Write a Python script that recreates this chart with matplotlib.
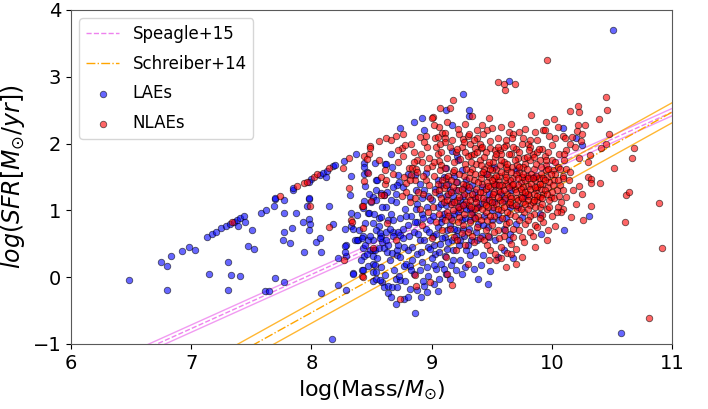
import matplotlib
matplotlib.use("Agg")
import matplotlib.pyplot as plt
import numpy as np

# ---------------- data ----------------
# LAEs: (log Mass, log SFR)
lae_points = [
    (6.48,-0.04),(6.75,0.22),(6.80,0.17),(6.83,0.31),(6.80,-0.19),(6.92,0.39),(6.98,0.45),(7.03,0.41),
    (7.15,0.04),(7.13,0.60),(7.17,0.65),(7.21,0.68),(7.25,0.73),(7.29,0.76),(7.32,0.80),(7.36,0.83),
    (7.38,0.86),(7.41,0.88),(7.44,0.92),(7.39,0.77),(7.45,0.82),(7.51,0.71),(7.47,0.46),(7.52,0.42),
    (7.31,0.23),(7.33,0.03),(7.41,0.02),(7.31,-0.19),(7.61,-0.20),(7.65,-0.20),(7.58,0.96),(7.62,1.00),
    (7.70,1.17),(7.77,1.15),(7.69,1.06),(7.77,0.96),(7.77,0.67),(7.76,0.56),(7.82,0.51),(7.85,1.30),
    (7.87,0.96),(7.84,0.73),(7.70,-0.01),(7.77,-0.07),(7.93,0.83),(7.94,0.37),(7.96,1.06),(7.98,1.17),
    (7.98,0.87),(7.99,0.80),(7.98,0.70),(8.04,0.53),(8.07,0.59),(8.08,0.38),(8.08,-0.23),(8.17,-0.92),
    (8.15,1.06),(8.18,0.80),(8.22,0.29),(8.22,-0.12),(8.29,-0.19),
    (7.70,1.19),(7.85,1.33),(7.98,1.18),(8.00,1.47),(7.98,1.43),(8.07,1.53),(8.10,1.56),(8.13,1.59),
    (8.18,1.66),(8.20,1.68),(8.27,1.74),(8.37,1.84),(8.33,1.52),(8.32,1.23),(8.44,1.71),(8.44,1.65),
    (8.44,1.54),(8.45,1.36),(8.53,1.71),(8.61,1.70),(8.54,1.46),(8.54,1.30),(8.51,1.20),(8.58,1.26),
    (8.46,1.57),(8.66,1.85),(8.74,2.23),(8.85,2.33),(8.62,1.70),(8.67,1.65),(8.55,1.46),(8.72,1.53),
    (8.73,1.43),(8.71,1.38),(8.86,1.53),(8.12,1.50),(8.92,2.39),(8.94,2.21),(9.12,2.51),(9.26,2.74),
    (9.31,2.50),(9.31,2.42),(9.17,2.28),(9.64,2.94),(8.95,1.56),(9.12,1.64),(9.17,1.89),(9.21,1.82),
    (9.22,1.75),(10.09,2.24),(10.20,2.08),(10.25,1.98),(10.51,3.70),
    (8.29,0.31),(8.28,0.38),(8.29,0.48),(8.28,0.72),(8.33,0.96),(8.36,0.56),(8.35,0.06),(8.39,0.56),
    (8.38,0.93),(8.43,0.61),(8.44,0.31),(8.42,0.11),(8.47,0.96),(8.51,0.56),(8.51,0.41),(8.51,0.32),
    (8.51,0.20),(8.51,0.08),(8.51,-0.06),(8.54,1.16),(8.56,0.76),(8.58,0.61),(8.59,0.53),(8.59,-0.07),
    (8.61,0.03),(8.64,-0.24),(8.60,-0.14),(8.62,0.68),(8.64,0.86),(8.60,1.23),
    (8.35,0.05),(8.43,0.11),(8.47,0.17),(8.53,0.18),(8.54,0.08),(8.54,-0.03),(8.57,-0.04),(8.64,-0.13),
    (8.67,-0.15),(8.71,-0.14),(8.70,-0.03),(8.74,-0.04),(8.77,-0.32),(8.86,-0.53),(8.77,0.16),(8.79,0.20),
    (8.82,0.17),(8.83,0.11),(8.28,0.46),(8.33,0.76),(8.35,0.72),(8.40,0.70),(8.38,0.56),(8.42,0.58),
    (8.43,0.43),(8.45,0.48),(8.47,0.56),(8.49,0.41),(8.53,0.41),(8.56,0.43),(8.60,0.43),(8.63,0.38),
    (8.64,0.48),(8.67,0.36),(8.71,0.33),(8.71,0.41),(8.74,0.30),(8.45,0.81),(8.48,0.96),(8.51,0.81),
    (8.50,1.13),(8.43,1.03),(8.44,1.14),(8.56,0.88),(8.58,0.90),(8.54,0.71),(8.57,0.66),(8.57,0.58),
    (8.68,0.68),(8.72,0.68),(8.74,0.63),
    (10.58,-0.83),(10.31,0.92),(10.10,0.70),(9.91,0.65),(9.68,0.28),(9.64,0.55),(9.49,0.09),(9.39,-0.02),
    (9.32,0.33),(9.36,0.38),(9.43,0.33),(9.06,-0.03),(8.94,-0.13),(8.88,-0.19),
    (8.62,1.05),(8.66,0.95),(8.70,1.12),(8.74,0.88),(8.78,1.02),(8.80,0.78),(8.83,0.92),(8.85,0.68),
    (8.88,0.82),(8.90,0.55),(8.92,0.95),(8.95,0.72),(8.97,0.45),(8.99,0.85),(9.01,0.62),(9.03,0.35),
    (9.05,0.75),(9.07,0.50),(9.09,0.88),(9.11,0.60),(9.13,0.42),(9.15,0.78),(9.17,0.55),(9.19,0.95),
    (9.21,0.70),(9.23,0.48),(9.25,0.85),(9.27,0.62),(9.29,1.02),(9.31,0.72),(9.33,0.55),(9.35,0.90),
    (9.37,0.68),(9.39,0.80),(9.42,0.62),(9.44,0.92),(9.47,0.75),(9.50,1.00),(9.53,0.55),(9.56,0.85),
    (9.60,0.72),(9.65,0.65),(8.68,0.62),(8.72,0.48),(8.76,0.58),(8.80,0.40),(8.84,0.25),(8.88,0.35),
    (8.92,0.22),(8.96,0.15),(9.00,0.28),(9.04,0.12),(9.08,0.20),(9.12,0.05),(9.16,0.18),(9.20,0.10),
    (9.24,0.25),(9.28,0.15),(8.65,0.25),(8.69,0.10),(8.73,0.02),(8.78,-0.05),(8.82,-0.18),(8.91,-0.30),
    (8.96,-0.22),(9.02,-0.10),(8.70,1.25),(8.76,1.35),(8.82,1.20),(8.88,1.10),(8.94,1.30),(9.00,1.15),
    (9.06,1.25),(9.12,1.08),(9.18,1.22),(9.24,1.15),(9.30,1.30),(9.36,1.18),(9.42,1.35),(9.48,1.25),
    (9.54,1.40),(9.60,1.15),(9.66,1.30),(9.72,1.05),(9.78,1.22),(9.85,1.50),(9.90,0.95),(9.75,0.90),
    (9.45,1.55),(9.25,1.60),(9.05,1.45),(8.90,1.40),(8.80,1.55),(8.68,1.35),(9.52,1.65),(9.70,1.60),
    (8.41,0.25),(8.46,0.35),(8.49,0.62),(8.52,0.95),(8.55,0.28),(8.58,0.15),(8.62,0.55),(8.65,0.72),
    (8.66,1.15),(8.68,0.85),(8.63,1.28),(8.59,1.05),(8.48,1.25),
    (8.76,0.72),(8.79,0.92),(8.81,0.62),(8.84,0.45),(8.86,0.82),(8.87,1.02),(8.89,0.65),(8.91,0.38),
    (8.93,0.88),(8.94,0.55),(8.96,1.05),(8.98,0.68),(8.99,0.42),(8.77,0.45),(8.85,0.05),(8.90,0.10),
    (8.93,-0.05),(8.97,0.02),(8.80,-0.30),(8.70,-0.40),(8.66,-0.30),(8.87,1.30),(8.92,1.18),(8.97,1.22),
    (9.01,0.92),(9.02,0.48),(9.04,0.65),(9.05,1.05),(9.06,0.38),(9.08,0.82),(9.09,0.58),(9.10,0.95),
    (9.11,0.32),(9.13,0.70),(9.14,0.52),(9.16,0.88),(9.18,0.40),(9.19,0.72),(9.20,0.62),(9.22,0.98),
    (9.24,0.55),(9.26,0.72),(9.28,0.88),(9.29,0.40),(9.03,1.32),(9.08,1.38),(9.15,1.30),(9.21,1.42),
    (9.27,1.10),(9.02,0.18),(9.10,0.12),(9.15,-0.02),(9.18,0.25),(9.25,0.05),(9.05,-0.20),
    (9.32,0.85),(9.34,0.98),(9.38,0.55),(9.40,1.10),(9.43,0.78),(9.45,1.15),(9.48,0.60),(9.50,0.85),
    (9.52,1.12),(9.55,0.95),(9.58,1.25),(9.62,0.88),(9.55,0.30),(9.60,0.40),(9.41,0.18),(9.35,0.12),
    (9.47,-0.10),(9.30,0.48),(9.65,1.05),(9.70,0.80),
    (9.08,1.10),(9.12,1.22),(9.14,1.40),(9.17,1.12),(9.20,1.30),(9.23,1.05),(9.26,1.22),(9.29,1.45),
    (9.32,1.02),(9.34,1.38),(9.10,1.50),(9.19,1.52),(9.27,1.35),(9.36,1.28),(9.39,1.05),
]

# NLAEs: (log Mass, log SFR)
nlae_points = [
    (7.74,1.22),(7.99,1.07),(8.15,0.75),(8.27,0.26),(7.34,0.82),(7.88,1.36),(7.94,1.41),(7.96,1.43),
    (8.02,1.50),(8.05,1.55),(8.15,1.63),(8.26,1.64),(8.31,1.79),(8.44,1.82),(8.48,1.85),(8.49,1.96),
    (8.56,2.04),(8.62,2.09),(8.47,1.56),(8.44,1.44),(8.56,1.75),(8.61,1.61),(8.58,1.50),(8.61,1.40),
    (8.60,1.23),(8.76,2.15),(8.90,2.10),(8.75,1.94),(8.72,1.91),(8.49,1.93),(8.46,1.77),(8.62,1.45),
    (8.77,1.50),(8.79,1.41),(8.81,1.63),(8.84,1.63),(8.83,1.53),(8.31,1.33),(8.42,1.06),(8.43,0.73),
    (8.42,0.02),(8.51,0.43),(8.50,1.14),(8.58,1.23),(8.33,0.86),(8.34,0.83),(8.43,1.07),(8.63,0.81),
    (8.70,0.55),(8.74,-0.33),(8.86,0.03),(8.87,-0.13),(8.43,0.01),
    (9.55,2.92),(9.60,2.89),(9.69,2.89),(9.61,2.80),(9.18,2.65),(9.15,2.54),(9.07,2.54),(9.83,2.43),
    (9.01,2.40),(9.00,2.38),(9.06,2.25),(9.09,2.16),(9.11,2.16),(8.95,2.11),(9.11,2.09),(9.11,2.03),
    (9.26,2.07),(9.30,2.11),(9.31,2.14),(9.38,2.20),(9.38,2.09),(9.43,2.15),(9.46,2.20),(9.50,2.23),
    (9.49,2.04),(9.55,2.09),(9.64,2.18),(9.68,2.15),(9.73,2.18),(9.67,2.08),(9.62,1.98),(9.76,2.08),
    (9.80,2.00),(9.82,2.06),(9.88,2.06),(9.93,2.20),(9.32,1.99),(9.36,1.93),(9.33,1.83),(9.41,1.94),
    (9.49,1.94),(9.53,1.90),(9.57,1.91),(8.85,1.88),(8.88,1.75),(8.92,1.73),(8.98,1.78),(9.00,1.66),
    (8.96,1.63),(9.06,1.74),(9.08,1.68),
    (9.96,3.25),(10.45,2.70),(10.46,2.50),(10.22,2.56),(10.23,2.48),(10.15,2.49),(10.39,2.37),(10.02,2.37),
    (10.22,2.28),(10.28,2.28),(9.94,2.21),(10.21,2.19),(10.25,2.14),(10.48,2.14),(10.03,2.08),(10.09,2.12),
    (10.11,2.09),(10.17,2.10),(10.24,2.04),(10.15,1.99),(10.19,1.95),(10.45,2.00),(10.41,1.93),(10.68,1.93),
    (10.67,1.79),(10.52,1.64),(10.32,1.83),(10.30,1.73),(10.23,1.79),(10.10,1.75),(10.12,1.62),(10.15,1.58),
    (10.09,1.51),(10.30,1.50),(10.33,1.47),(10.33,1.41),(10.40,1.41),(10.14,1.45),(10.23,1.36),(10.61,0.82),
    (10.62,1.23),(10.64,1.27),(10.89,1.11),(10.92,0.43),(10.81,-0.61),(10.33,1.07),(10.26,0.86),(10.16,0.90),
    (10.09,1.02),(10.03,0.76),(9.97,0.71),(9.96,0.56),(9.92,0.93),(9.86,0.78),(9.63,0.36),(9.54,0.26),
    (9.49,0.41),(9.17,-0.11),(9.13,0.04),(8.99,-0.07),
    (9.02,1.52),(9.05,1.40),(9.03,1.28),(9.08,1.18),(9.01,1.05),(9.06,0.95),(9.04,0.82),(9.09,0.70),
    (9.00,0.58),(9.07,1.60),(9.10,1.33),(9.12,1.48),(9.14,1.25),(9.16,1.10),(9.13,0.98),(9.17,0.85),
    (9.15,0.72),(9.19,0.60),(9.18,1.58),(9.20,1.42),(9.22,1.30),(9.21,1.15),(9.24,1.02),(9.23,0.90),
    (9.26,0.78),(9.25,0.66),(9.28,1.70),(9.27,1.52),(9.29,1.38),(9.30,1.22),(9.31,1.08),(9.33,0.95),
    (9.32,0.82),(9.34,1.62),(9.35,1.45),(9.37,1.32),(9.36,1.18),(9.38,1.05),(9.39,0.92),(9.40,1.75),
    (9.41,1.55),(9.42,1.40),(9.43,1.28),(9.44,1.12),(9.45,0.98),(9.46,0.85),(9.47,1.68),(9.48,1.50),
    (9.49,1.35),(9.50,1.20),(9.51,1.05),(9.52,0.92),(9.53,1.80),(9.54,1.62),(9.55,1.45),(9.56,1.30),
    (9.57,1.15),(9.58,1.00),(9.59,0.88),(9.60,1.72),(9.61,1.55),(9.62,1.40),(9.63,1.25),(9.64,1.10),
    (9.65,0.95),(9.66,1.85),(9.67,1.65),(9.68,1.48),(9.69,1.32),(9.70,1.18),(9.71,1.02),(9.72,1.78),
    (9.73,1.58),(9.74,1.42),(9.75,1.28),(9.76,1.12),(9.77,0.98),(9.78,1.70),(9.79,1.52),(9.80,1.36),
    (9.81,1.22),(9.82,1.08),(9.84,1.85),(9.85,1.62),(9.86,1.45),(9.87,1.30),(9.88,1.15),(9.90,1.75),
    (9.91,1.55),(9.92,1.40),(9.93,1.25),(9.95,1.68),(9.96,1.50),(9.97,1.35),(9.99,1.20),(10.01,1.60),
    (10.02,1.45),(10.04,1.30),(10.06,1.85),(10.07,1.38),(10.12,1.90),
    (9.20,1.88),(9.25,1.95),(9.35,1.85),(9.45,1.88),(9.58,1.85),(9.70,1.92),(9.82,1.95),(9.92,1.92),
    (10.00,1.98),(9.15,1.95),(9.05,1.85),(8.95,1.45),(8.93,1.25),(8.97,0.98),(8.90,1.02),(8.92,0.78),
    (9.50,0.78),(9.55,0.70),(9.62,0.80),(9.68,0.72),(9.73,0.85),(9.78,0.80),(9.85,0.95),(9.90,1.05),
    (9.60,0.62),(9.45,0.70),(9.40,0.58),(9.35,0.52),(9.28,0.48),(9.75,0.60),(9.82,0.68),(9.66,0.50),
    (9.58,0.45),(9.20,0.40),(9.12,0.30),(9.48,0.25),(9.30,0.20),(9.70,0.42),(10.05,1.05),(10.00,0.92),
    (10.12,1.20),(10.18,1.30),(10.25,1.25),(10.08,0.98),(10.20,1.10),
    (9.11,1.63),(9.19,1.72),(9.23,1.55),(9.26,1.40),(9.29,1.12),(9.32,1.58),(9.37,1.70),(9.39,1.20),
    (9.42,1.02),(9.44,1.62),(9.46,1.42),(9.48,1.15),(9.51,1.72),(9.52,1.28),(9.54,1.10),(9.57,1.68),
    (9.59,1.38),(9.61,1.18),(9.63,1.62),(9.65,1.45),(9.67,1.08),(9.69,1.75),(9.70,1.55),(9.72,1.38),
    (9.74,1.20),(9.76,1.65),(9.78,1.45),(9.80,1.15),(9.82,1.75),(9.83,1.55),(9.85,1.25),(9.87,1.70),
    (9.89,1.48),(9.91,1.32),(9.94,1.82),(9.95,1.60),(9.98,1.42),(10.00,1.75),(10.03,1.55),(10.05,1.65),
    (10.09,1.48),(10.10,1.85),(9.36,1.02),(9.31,1.48),(9.27,1.25),(9.22,1.05),(9.18,1.35),(9.14,1.52),
    (9.10,1.12),(9.06,1.30),(9.55,1.95),(9.62,2.05),(9.75,2.00),(9.88,1.88),(9.40,2.00),(9.30,1.82),
    (8.87,1.62),(8.91,1.85),(8.93,1.52),(8.96,1.95),(8.98,1.38),(9.02,1.72),(9.04,1.95),(8.89,1.28),
    (9.08,1.88),(9.03,2.08),(8.94,2.02),(9.09,1.45),(9.07,2.00),(8.99,1.18),(8.86,1.45),
    (9.13,1.78),(9.17,2.05),(9.21,1.92),(9.24,1.77),(9.27,2.02),(9.29,1.62),(9.33,1.72),(9.36,1.55),
    (9.38,1.88),(9.41,1.68),(9.12,1.38),(9.16,1.46),(9.19,1.12),(9.23,1.20),(9.26,1.08),(9.31,1.35),
    (9.34,1.25),(9.37,1.12),(9.39,1.42),(9.14,0.92),(9.18,1.00),(9.22,0.83),(9.27,0.95),(9.33,1.05),
    (9.36,0.88),(9.40,1.28),(9.28,1.88),(9.35,2.05),(9.23,2.15),(9.19,1.60),(9.16,1.28),(9.13,1.15),
    (9.11,0.85),(9.25,1.32),(9.32,1.15),(9.38,0.75),(9.41,0.85),(9.21,0.55),(9.30,0.68),(9.34,0.62),
    (9.42,1.95),(9.44,1.80),(9.46,1.55),(9.48,1.72),(9.50,1.60),(9.52,1.48),(9.54,1.85),(9.56,1.52),
    (9.58,1.75),(9.60,1.95),(9.62,1.65),(9.64,1.85),(9.66,1.58),(9.68,1.95),(9.43,1.18),(9.45,1.32),
    (9.47,1.05),(9.49,0.92),(9.51,1.25),(9.53,1.38),(9.55,1.02),(9.57,1.28),(9.59,1.12),(9.61,1.45),
    (9.63,0.98),(9.65,1.22),(9.67,1.38),(9.69,0.92),(9.44,0.55),(9.47,0.62),(9.52,0.68),(9.56,0.58),
    (9.61,0.70),(9.64,0.82),(9.68,0.60),(9.46,0.48),(9.53,0.35),(9.58,0.28),(9.66,0.35),(9.62,0.15),
    (9.71,1.68),(9.73,1.88),(9.75,1.50),(9.77,1.78),(9.79,1.62),(9.81,1.90),(9.83,1.40),(9.85,1.80),
    (9.87,1.52),(9.89,1.92),(9.91,1.65),(9.93,1.48),(9.95,1.75),(9.97,1.88),(9.99,1.55),(10.01,1.38),
    (10.03,1.72),(10.05,1.45),(10.07,1.62),(10.09,1.30),(9.72,1.15),(9.74,1.02),(9.76,1.35),(9.78,1.10),
    (9.80,1.25),(9.82,0.92),(9.84,1.12),(9.86,1.05),(9.88,1.35),(9.90,1.20),(9.92,1.10),(9.94,1.30),
    (9.96,1.02),(9.98,1.15),(10.00,1.28),(10.02,1.18),(10.04,0.98),(10.06,1.22),(10.08,1.12),(9.73,0.70),
    (9.77,0.52),(9.80,0.85),(9.84,0.62),(9.88,0.75),(9.93,0.82),(9.75,0.30),(9.70,0.20),(9.86,0.45),
    (9.02,2.28),(9.13,2.32),(9.22,2.22),(9.28,2.30),(9.42,2.28),(9.58,2.25),(9.66,2.30),(9.78,2.22),
    (9.86,2.18),(9.98,2.12),(10.05,2.25),(9.95,2.32),(9.48,2.38),(9.34,2.42),(9.05,2.10),
    (8.72,1.72),(8.76,1.82),(8.79,1.28),(8.82,1.45),(8.85,1.72),(8.88,1.58),(8.78,1.98),(8.68,1.55),
    (8.66,2.05),(8.70,2.12),(8.83,2.00),(8.82,1.12),(8.86,1.18),(8.75,1.22),
    (9.41,1.48),(9.43,1.58),(9.47,1.36),(9.49,1.62),(9.52,1.40),(9.54,1.52),(9.56,1.38),(9.58,1.58),
    (9.60,1.30),(9.62,1.50),(9.64,1.35),(9.66,1.18),(9.68,1.40),(9.70,1.28),(9.72,1.48),(9.74,1.32),
    (9.76,1.55),(9.78,1.28),(9.80,1.48),(9.82,1.32),(9.84,1.48),(9.86,1.35),(9.88,1.22),(9.90,1.40),
    (9.92,1.18),(9.94,1.45),(9.96,1.25),(9.98,1.05),(9.45,1.08),(9.50,1.12),(9.55,1.20),(9.60,1.05),
    (9.65,1.12),(9.70,1.08),(9.75,1.18),(9.80,1.02),(9.85,1.15),(9.90,0.88),(9.50,1.45),(9.63,1.70),
    (9.73,1.65),(9.79,1.80),(9.97,1.62),
]

# Main-sequence relations: slope, intercept, upper/lower offsets
speagle_fit = dict(slope=0.81, intercept=-6.44, up=0.055, low=-0.055)
schreiber_fit = dict(slope=1.00, intercept=-8.53, up=0.14, low=-0.16)

x_ticks = [6, 7, 8, 9, 10, 11]
y_ticks = [-1, 0, 1, 2, 3, 4]

# ---------------- plotting ----------------
plt.rcParams['font.family'] = ['DejaVu Sans']
fig = plt.figure(figsize=(7.08, 4.09), dpi=100)
ax = fig.add_axes([0.1003, 0.159, 0.8488, 0.8166])

mgrid = np.linspace(6, 11, 200)

def relation(p, off=0.0):
    return p['slope'] * mgrid + p['intercept'] + off

ax.plot(mgrid, relation(speagle_fit), color='violet', ls='--', lw=1.0, label='Speagle+15', zorder=1)
ax.plot(mgrid, relation(speagle_fit, speagle_fit['up']), color='violet', ls='-', lw=1.0, alpha=0.8, zorder=1)
ax.plot(mgrid, relation(speagle_fit, speagle_fit['low']), color='violet', ls='-', lw=1.0, alpha=0.8, zorder=1)
ax.plot(mgrid, relation(schreiber_fit), color='orange', ls='-.', lw=1.0, label='Schreiber+14', zorder=1)
ax.plot(mgrid, relation(schreiber_fit, schreiber_fit['up']), color='orange', ls='-', lw=1.0, alpha=0.8, zorder=1)
ax.plot(mgrid, relation(schreiber_fit, schreiber_fit['low']), color='orange', ls='-', lw=1.0, alpha=0.8, zorder=1)

lae_m = [p[0] for p in lae_points]
lae_s = [p[1] for p in lae_points]
nlae_m = [p[0] for p in nlae_points]
nlae_s = [p[1] for p in nlae_points]

ax.scatter(lae_m, lae_s, s=22, c='blue', alpha=0.6, edgecolors='k', linewidths=0.6, label='LAEs', zorder=2)
ax.scatter(nlae_m, nlae_s, s=22, c='red', alpha=0.6, edgecolors='k', linewidths=0.6, label='NLAEs', zorder=3)

ax.set_xlim(6, 11)
ax.set_ylim(-1, 4)
ax.set_xticks(x_ticks)
ax.set_yticks(y_ticks)
ax.tick_params(labelsize=14)
for sp in ax.spines.values():
    sp.set_color('0.35')

ax.set_xlabel(r'log(Mass/$M_{\odot}$)', fontsize=16)
ax.set_ylabel(r'$log(SFR[M_{\odot}/yr])$', fontsize=17)

ax.legend(loc='upper left', fontsize=12, labelspacing=0.7, markerscale=1.0)

fig.savefig('out.png', dpi=100)
